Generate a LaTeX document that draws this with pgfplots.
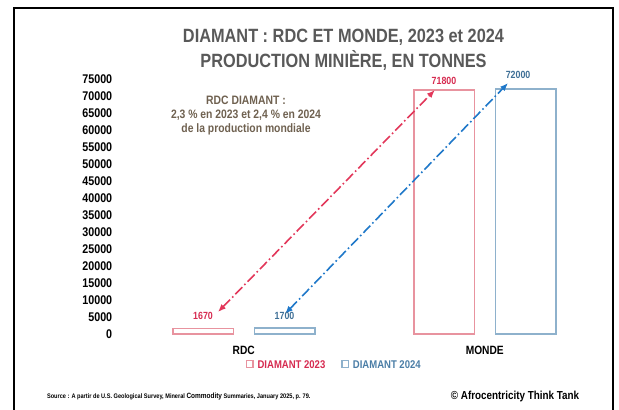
\documentclass[border=0pt]{standalone}
\usepackage{pgfplots}
\pgfplotsset{compat=1.18}
\usepackage{pgfplotstable}
\usetikzlibrary{arrows.meta}
\usepackage{fontspec}
\setmainfont{Liberation Sans}[FakeStretch=0.85]
\definecolor{titlegray}{HTML}{595959}
\definecolor{annot}{HTML}{6F6150}
\definecolor{bar23}{HTML}{E8939F}
\definecolor{bar24}{HTML}{8EB1CC}
\definecolor{lab23}{HTML}{D62B50}
\definecolor{lab24}{HTML}{3E6F96}
\definecolor{arrred}{HTML}{E2375A}
\definecolor{arrblue}{HTML}{1F78C9}
\definecolor{leg24}{HTML}{4A7DA6}

\pgfplotstableread{
x y dx dy
0 1670 0 3.8
1 71800 0 2.2
}\dataA
\pgfplotstableread{
x y dx dy
0 1700 0 3.8
1 72000 -3.7 4.9
}\dataB

\begin{document}
\begin{tikzpicture}
\useasboundingbox (0,0) rectangle (309.5pt,-204.5pt);
\draw[line width=1pt] (7pt,-215pt) -- (7pt,-4pt) -- (306.5pt,-4pt) -- (306.5pt,-215pt);
\node[font=\bfseries\fontsize{9.6}{11}\selectfont, text=titlegray] at (171.75pt,-18.5pt) {DIAMANT : RDC ET MONDE, 2023 et 2024};
\node[font=\bfseries\fontsize{9.6}{11}\selectfont, text=titlegray] at (171.75pt,-30pt) {PRODUCTION MINIÈRE, EN TONNES};
\begin{axis}[
  at={(61.625pt,-167pt)}, anchor=south west,
  scale only axis, width=241pt, height=127.5pt,
  xmin=-0.5, xmax=1.5, ymin=0, ymax=75000,
  xtick={0,1}, xticklabels={RDC,MONDE},
  ytick={0,5000,...,75000},
  axis line style={draw=none},
  major tick length=0pt,
  tick style={draw=none},
  scaled y ticks=false,
  /pgf/number format/assume math mode=true,
  /pgf/number format/fixed,
  /pgf/number format/precision=0,
  /pgf/number format/set thousands separator={},
  yticklabel style={font=\bfseries\fontsize{6.3}{7}\selectfont, xshift=-2pt},
  xticklabel style={font=\bfseries\fontsize{6}{7}\selectfont, yshift=-2.5pt},
  ybar, bar width=30.25pt,
  clip=false,
  legend style={at={(0.44,-0.125)}, anchor=center, draw=none, fill=none,
    legend columns=2, font=\bfseries\fontsize{5.6}{7}\selectfont,
    /tikz/every even column/.append style={column sep=6pt},
    inner sep=1pt},
  legend cell align=left,
]
\addplot[draw=bar23, fill=white, line width=0.75pt, bar shift=-20.375pt,
  nodes near coords,
  visualization depends on={\thisrow{dx} \as \mydx},
  visualization depends on={\thisrow{dy} \as \mydy},
  every node near coord/.append style={font=\bfseries\fontsize{5.2}{6}\selectfont, text=lab23, anchor=south, inner sep=0pt, xshift=\mydx pt, yshift=\mydy pt},
  legend image code/.code={\draw[bar23, fill=white, line width=0.6pt] (0pt,-0.7pt) rectangle (3.2pt,2.5pt);}
] table[x=x,y=y] {\dataA};
\addlegendentry{\textcolor{lab23}{DIAMANT 2023}}
\addplot[draw=bar24, fill=white, line width=0.75pt, bar shift=20.375pt,
  nodes near coords,
  visualization depends on={\thisrow{dx} \as \mydx},
  visualization depends on={\thisrow{dy} \as \mydy},
  every node near coord/.append style={font=\bfseries\fontsize{5.2}{6}\selectfont, text=lab24, anchor=south, inner sep=0pt, xshift=\mydx pt, yshift=\mydy pt},
  legend image code/.code={\draw[bar24, fill=white, line width=0.6pt] (0pt,-0.7pt) rectangle (3.2pt,2.5pt);}
] table[x=x,y=y] {\dataB};
\addlegendentry{\textcolor{leg24}{DIAMANT 2024}}
\draw[gray!60, line width=0.5pt] (axis cs:1,72000) ++(20.375pt,0) -- ++(0,3pt);
\draw[arrred, line width=0.8pt, dash pattern=on 5pt off 1.5pt on 0.8pt off 1.5pt,
  {Latex[length=4pt,width=3.2pt]}-{Latex[length=4pt,width=3.2pt]}]
  (axis cs:-0.107,6470) -- (axis cs:0.793,71760);
\draw[arrblue, line width=0.8pt, dash pattern=on 5pt off 1.5pt on 0.8pt off 1.5pt,
  {Latex[length=4pt,width=3.2pt]}-{Latex[length=4pt,width=3.2pt]}]
  (axis cs:0.171,5900) -- (axis cs:1.0965,73800);
\node[font=\bfseries\fontsize{6.1}{7}\selectfont, text=annot, align=center]
  at (axis cs:0.0093,64400) {RDC DIAMANT :\\2,3 \% en 2023 et 2,4 \% en 2024\\de la production mondiale};
\end{axis}
\node[anchor=west, font=\bfseries\fontsize{3.3}{4}\selectfont] at (20pt,-198.5pt) {Source : A partir de U.S. Geological Survey, Mineral {\fontsize{3.8}{4}\selectfont Commodity} Summaries, January 2025, p. 79.};
\node[font=\bfseries\fontsize{5.8}{7}\selectfont] at (257.5pt,-198pt) {© Afrocentricity Think Tank};
\end{tikzpicture}
\end{document}
